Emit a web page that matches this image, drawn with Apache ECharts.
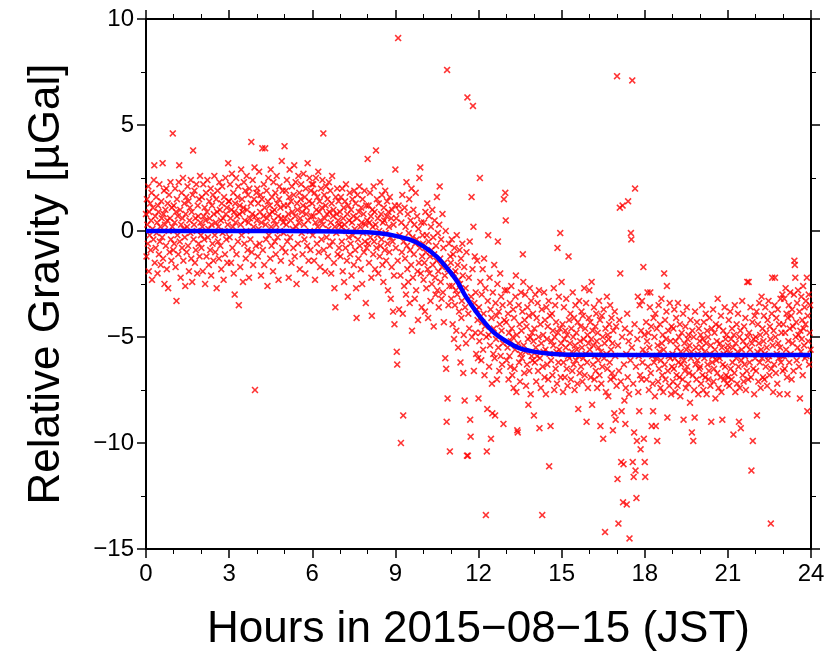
<!DOCTYPE html>
<html>
<head>
<meta charset="utf-8">
<script src="https://cdn.jsdelivr.net/npm/echarts@6/dist/echarts.min.js"></script>
<style>
  html, body { margin: 0; padding: 0; background: #fff; }
  #chart { width: 839px; height: 657px; }
</style>
</head>
<body>
<div id="chart"></div>
<script>
// one reading per minute, one array per hour (values in µGal)
const h00 = [0.8,-1.2,1.5,0.3,-0.6,2.1,-1.9,0.9,-0.2,1.3,-0.9,0.5,1.8,-2.3,0.1,1.1,-0.4,2.4,3.1,-1.5,0.7,-0.8,1.6,-0.1,0.4,-2.0,1.2,0.9,-1.1,2.2,-0.5,0.2,-1.6,1.4,0.6,-0.3,3.2,-1.3,0.8,1.9,-2.5,0.3,1.0,-0.7,2.0,-1.8,0.5,1.3,-2.7,0.0,1.7,-1.0,0.6,2.3,-0.4,-1.4,1.1,0.2,4.6,-0.9];
const h01 = [1.2,-0.6,0.4,2.0,-1.7,0.9,-3.3,1.5,-0.2,0.7,-1.1,2.3,3.1,-0.5,1.0,-2.2,0.3,1.8,-0.8,0.6,2.5,-1.4,0.1,1.3,-0.3,-2.6,0.8,1.6,-1.0,0.2,2.1,-0.7,1.4,-1.9,0.5,1.1,-0.1,2.4,-1.3,0.9,-2.4,1.7,3.8,-0.4,0.3,1.9,-1.5,0.6,-0.9,2.2,0.0,-2.0,1.2,0.7,-0.6,1.5,-1.2,2.6,0.4,-0.2];
const h02 = [-0.8,1.6,0.2,-1.9,2.2,0.7,-0.4,1.1,-2.5,0.5,1.8,-1.2,0.9,2.4,-0.3,0.1,-1.6,1.4,0.6,-0.9,2.0,-2.1,0.3,1.2,-0.6,1.7,-1.4,0.8,2.6,-0.2,-1.0,0.4,1.5,-2.7,0.9,1.9,-0.5,0.2,-1.3,2.3,1.0,-0.7,0.5,-1.8,1.3,2.1,-0.1,0.6,-2.3,1.6,0.0,-1.1,2.5,0.8,-0.4,1.1,-1.5,0.3,3.2,1.4];
const h03 = [1.4,-0.3,2.2,0.6,-1.5,1.0,2.7,-0.8,0.2,1.8,-2.0,0.9,-3.0,1.3,0.4,2.5,-1.1,0.7,1.6,-0.5,2.1,-3.5,0.8,1.2,-1.7,0.3,2.9,-0.2,1.5,0.9,-2.4,1.1,2.3,-0.6,0.5,1.9,-1.3,0.0,2.6,1.0,-0.9,1.7,0.4,-2.2,2.0,0.6,-0.4,1.3,4.2,-1.0,0.8,2.4,-1.6,0.2,1.5,3.0,-7.5,0.7,-0.7,1.8];
const h04 = [0.5,2.0,-1.2,1.3,0.1,2.8,-0.6,0.9,1.7,-2.1,0.4,1.5,3.9,-0.9,0.7,2.2,-1.6,1.1,3.9,0.3,-0.4,1.9,0.6,-2.6,1.4,2.5,-0.2,0.8,1.2,-1.3,2.9,0.2,-0.7,1.6,0.9,-1.9,2.3,0.5,1.0,-0.5,1.8,-1.1,0.3,2.6,1.3,-0.3,0.7,-2.3,1.5,2.1,0.0,1.1,-1.4,0.6,3.3,-0.8,1.9,0.4,-0.1,1.2];
const h05 = [4.0,0.6,-1.0,1.9,0.3,2.4,-0.5,1.2,0.8,-2.2,1.6,2.9,-0.3,0.5,1.4,-1.5,2.1,0.9,0.1,-0.8,1.7,3.1,-1.2,0.7,2.3,0.2,-2.5,1.3,1.0,-0.6,2.6,0.4,1.8,-1.8,0.6,1.5,2.2,-0.1,0.9,-1.1,1.2,2.7,0.3,-0.4,1.6,-2.0,2.0,0.8,1.1,-0.7,3.2,0.5,-1.4,1.4,2.5,0.0,-0.9,1.9,0.7,2.2];
const h06 = [1.3,-0.2,2.2,0.7,-1.4,1.8,-2.3,0.4,2.5,1.0,-0.6,1.6,0.2,2.8,-1.0,0.9,1.4,-1.7,0.5,2.0,-0.4,1.1,2.4,0.3,4.6,-0.9,1.7,0.6,-1.9,1.2,2.1,-0.3,0.8,1.5,-1.2,0.1,2.3,0.9,-0.7,1.9,0.4,-2.0,1.3,2.6,-0.5,0.7,1.0,-1.5,-2.7,0.2,-3.6,1.6,-0.1,0.8,2.0,-1.1,0.5,1.4,-0.8,0.3];
const h07 = [0.9,-1.2,1.6,0.2,-0.5,2.0,-1.9,0.6,1.1,-2.4,0.3,1.4,-0.8,2.2,0.0,-1.4,0.8,-3.1,1.2,-0.3,0.5,1.8,-1.1,-0.6,1.0,-2.1,0.4,1.5,-0.2,0.7,-1.6,1.9,0.1,-0.9,1.3,-2.7,-4.1,0.6,1.7,-0.4,-1.3,0.9,2.1,-0.7,0.2,-1.8,1.1,0.4,-2.5,1.5,-0.1,0.8,-1.0,1.9,-0.5,0.3,-3.4,1.2,-0.8,0.5];
const h08 = [3.4,-0.6,1.2,-1.5,0.4,1.8,-0.3,0.7,-2.2,-4.0,1.0,0.2,-1.1,2.1,-0.5,0.9,-1.8,0.3,3.8,-0.8,1.5,-0.2,0.6,-2.0,1.3,0.0,-1.2,2.3,-0.7,0.8,-0.4,1.7,-1.6,0.4,-2.4,1.1,0.5,-0.9,1.9,-0.1,-1.4,0.7,1.4,-0.6,-2.8,0.9,0.2,-1.0,1.6,-0.3,-3.2,0.6,-1.7,1.0,-0.5,-3.8,0.3,-2.1,-4.4,1.2];
const h09 = [2.9,-0.8,0.6,-5.7,-6.3,-1.4,9.1,1.2,-3.7,-0.2,0.9,-2.1,-10.0,0.4,-1.0,1.7,-3.9,-8.7,-0.5,-2.6,1.1,-1.3,0.2,-3.0,2.3,-0.7,-1.8,0.8,-2.4,-0.1,1.5,-3.4,-0.9,0.5,-1.6,2.0,-4.7,-0.3,-2.2,1.0,-1.1,0.3,-3.2,-0.6,1.8,-2.8,-0.4,0.7,-1.9,-4.2,0.1,-1.5,2.5,-0.8,3.0,-2.0,0.4,-3.6,-1.2,-0.2];
const h10 = [-0.6,-2.3,0.4,-1.5,-3.8,0.9,-1.0,-2.7,-0.2,1.3,-1.8,-4.1,-0.5,0.7,-2.0,-1.2,-3.3,0.2,-0.9,-2.5,1.0,-1.6,-0.3,-4.5,-1.1,0.5,-2.2,-3.0,-0.7,-1.4,1.6,-2.8,-0.1,-1.9,-3.6,0.3,2.1,-1.3,-2.4,-0.4,-3.2,-1.7,0.8,-2.9,-0.8,-4.3,-1.5,-2.1,-6.0,0.0,-6.5,-9.0,7.6,-7.9,-1.8,-3.5,-0.6,-2.6,-10.4,-1.2];
const h11 = [-1.5,-3.2,-0.4,-2.6,-4.4,-1.1,-2.0,-5.1,-0.8,-3.5,-1.9,-2.8,-4.7,-0.2,-3.0,-1.6,-5.5,-2.3,-3.8,-0.9,-2.5,-6.2,-1.3,-4.1,-3.3,-0.6,-2.1,-6.7,-4.9,-1.7,-8.0,-3.6,-2.7,-5.3,-1.0,-10.6,6.3,-10.6,-3.9,-2.2,-4.6,-0.5,-8.9,-9.7,-3.1,1.6,-5.0,-1.8,5.9,0.2,-6.6,-3.4,-1.2,-4.8,-2.9,-5.8,-3.7,-1.4,-4.2,-6.0];
const h12 = [-7.9,-3.6,-5.2,2.5,-2.4,-4.8,-6.1,-3.0,-4.3,-1.8,-5.6,-3.9,-1.3,-6.8,-4.5,-2.7,-13.4,-5.0,-10.4,-8.4,-3.3,-0.2,-4.9,-6.4,-2.2,-5.4,-3.7,-9.8,-4.1,-7.2,-8.6,-2.9,-5.8,-4.6,-1.6,-6.0,-8.7,-3.4,-5.1,-4.0,-7.0,-2.5,-0.5,-5.5,-3.8,-6.6,-4.4,-2.0,-5.9,-3.1,-4.7,-6.3,-3.5,-5.3,-9.1,1.5,-4.2,-2.8,1.8,0.5];
const h13 = [-4.3,-6.1,-2.8,-5.5,-3.9,-7.0,-4.8,-5.9,-3.4,-6.4,-5.2,-2.6,-4.6,-6.8,-5.0,-3.7,-7.4,-4.1,-6.5,-5.6,-3.1,-2.1,-7.6,-4.9,-9.4,-9.5,-5.3,-3.5,-6.2,-4.4,-7.1,-5.8,-2.9,-4.7,-6.0,-3.8,-1.1,-2.4,-5.4,-6.7,-4.2,-3.0,-5.7,-7.3,-4.5,-6.3,-3.6,-5.1,-8.2,-4.0,-6.6,-2.7,-5.0,-7.7,-3.3,-5.9,-4.8,-6.1,-3.9,-5.2];
const h14 = [-8.7,-4.6,-6.2,-3.0,-5.5,-7.1,-4.1,-5.9,-3.4,-6.6,-5.0,-2.8,-9.3,-6.0,-4.4,-7.4,-5.3,-3.7,-13.4,-6.4,-4.9,-5.7,-2.9,-6.9,-4.2,-5.6,-7.7,-3.6,-5.1,-6.3,-4.5,-7.0,-3.3,-11.1,-5.8,-4.0,-9.2,-6.1,-5.2,-3.9,-6.8,-4.7,-5.4,-2.7,-7.5,-5.0,-3.5,-6.5,-4.3,-5.7,-7.2,-0.8,-4.8,-6.2,-3.1,-5.6,-4.6,-0.1,-6.9,-5.3];
const h15 = [-2.4,-5.8,-4.4,-7.6,-6.2,-3.6,-5.1,-6.9,-4.7,-5.5,-3.2,-6.5,-4.9,-7.3,-5.9,-1.2,-4.2,-6.0,-5.3,-3.9,-7.0,-4.6,-5.7,-6.6,-2.9,-5.0,-6.3,-4.1,-7.5,-5.4,-3.5,-6.1,-4.8,-5.6,-7.2,-4.3,-8.4,-5.9,-3.3,-6.7,-5.2,-4.5,-6.4,-3.8,-5.5,-7.1,-4.0,-6.0,-5.1,-2.7,-6.8,-4.6,-5.8,-3.4,-9.0,-6.2,-4.9,-7.4,-5.3,-4.1];
const h16 = [-2.8,-5.6,-4.3,-6.9,-5.1,-2.4,-8.2,-4.7,-6.3,-5.4,-3.6,-7.0,-5.9,-4.5,-6.6,-3.9,-5.2,-7.4,-4.8,-6.1,-5.5,-3.3,-6.8,-4.2,-9.2,-5.7,-7.2,-4.0,-6.4,-5.0,-9.8,-3.7,-6.0,-5.3,-14.2,-4.6,-7.6,-5.8,-3.1,-6.5,-4.9,-7.8,-5.1,-4.4,-6.2,-3.5,-7.0,-5.6,-4.1,-6.7,-5.3,-9.4,-4.7,-6.9,-8.6,-3.8,-5.9,-8.9,-4.5,-7.3];
const h17 = [7.3,-11.7,-5.4,-13.8,-6.6,-4.2,1.1,-2.0,-7.1,-10.9,-8.5,-5.0,1.2,-12.8,-11.0,-6.3,-8.0,-4.6,-9.1,-7.4,-5.8,-12.9,-3.9,-6.9,1.4,-5.2,-7.7,-14.5,-4.8,-6.1,-0.1,-0.4,-5.5,7.1,-10.9,-7.2,-11.6,-9.5,-4.4,2.0,-11.3,-6.4,-12.6,-9.9,-5.1,-3.1,-7.6,-5.9,-8.5,-3.5,-6.8,-10.3,-4.7,-7.0,-3.3,-6.2,-5.6,-1.7,-9.8,-4.9];
const h18 = [-10.9,-11.6,-5.8,-4.3,-7.0,-5.2,-2.9,-6.4,-4.8,-7.5,-5.5,-3.6,-2.9,-6.7,-4.5,-9.2,-5.9,-7.2,-8.5,-4.1,-6.2,-5.0,-7.8,-3.9,-9.2,-6.0,-4.6,-9.9,-5.4,-7.1,-3.5,-6.5,-5.7,-4.4,-7.4,-6.1,-3.2,-5.3,-6.8,-4.9,-7.6,-5.6,-2.0,-6.3,-4.2,-7.0,-5.1,-3.8,-2.6,-8.8,-6.6,-4.7,-5.9,-7.3,-3.4,-6.0,-5.2,-7.7,-4.5,-6.4];
const h19 = [-5.8,-7.1,-4.6,-6.5,-3.7,-6.0,-7.6,-5.2,-4.1,-6.8,-5.5,-7.3,-3.4,-6.2,-5.0,-6.9,-4.4,-7.8,-5.7,-6.3,-4.8,-5.9,-7.0,-3.9,-8.9,-6.1,-5.3,-6.6,-4.5,-7.4,-5.6,-3.6,-6.4,-5.1,-7.2,-4.9,-6.7,-5.4,-8.1,-4.2,-6.0,-5.7,-9.5,-4.7,-6.8,-9.9,-5.0,-7.5,-8.8,-3.8,-6.3,-5.5,-7.0,-4.3,-6.1,-5.8,-7.7,-4.6,-6.5,-5.2];
const h20 = [-6.4,-4.9,-7.2,-5.5,-3.5,-6.8,-5.1,-7.5,-4.3,-6.0,-5.7,-6.9,-3.9,-5.3,-7.7,-4.7,-6.3,-5.0,-7.0,-6.6,-4.1,-5.8,-7.3,-5.4,-9.0,-4.6,-6.2,-5.9,-3.7,-7.1,-6.5,-4.8,-5.6,-7.9,-4.4,-6.1,-5.2,-6.7,-3.2,-5.9,-7.4,-4.5,-6.0,-5.3,-6.9,-4.0,-7.6,-5.5,-8.9,-6.3,-4.7,-5.8,-7.0,-3.6,-6.4,-5.1,-6.8,-4.9,-7.2,-5.6];
const h21 = [-5.4,-6.9,-4.2,-7.3,-5.8,-3.8,-6.5,-5.1,-7.0,-4.6,-6.2,-5.5,-9.6,-4.9,-6.7,-3.5,-7.6,-5.3,-6.0,-4.4,-7.2,-5.7,-3.9,-6.4,-9.0,-5.0,-7.4,-4.7,-9.3,-6.1,-5.6,-3.3,-6.8,-5.2,-7.1,-4.5,-6.3,-5.9,-4.1,-7.5,-5.4,-6.6,-2.4,-5.0,-7.0,-2.4,-4.8,-6.2,-5.6,-3.6,-6.9,-11.3,-5.3,-4.3,-9.9,-6.5,-5.1,-7.7,-4.0,-6.0];
const h22 = [-5.0,-6.6,-3.8,-8.7,-5.7,-4.4,-7.1,-5.3,-3.4,-6.2,-4.9,-7.4,-5.6,-3.1,-6.0,-4.6,-6.9,-5.2,-4.0,-7.0,-5.8,-3.6,-6.4,-4.8,-5.5,-7.3,-4.2,-6.1,-3.3,-5.9,-6.8,-4.5,-5.1,-13.8,-6.5,-3.9,-2.2,-5.4,-7.6,-4.7,-6.3,-3.5,-2.2,-5.0,-6.7,-4.1,-5.8,-7.2,-3.7,-5.3,-6.0,-4.4,-7.7,-5.5,-3.2,-6.2,-4.8,-5.9,-3.0,-6.6];
const h23 = [-4.4,-5.9,-3.2,-6.5,-4.8,-2.7,-5.6,-3.9,-6.9,-7.7,-4.1,-5.2,-3.5,-6.2,-4.6,-2.9,-5.8,-4.0,-7.0,-3.7,-5.3,-4.5,-6.6,-3.0,-1.4,-1.6,-2.2,-5.0,-4.3,-6.1,-3.4,-5.5,-2.8,-4.9,-6.4,-3.8,-7.9,-4.7,-5.7,-3.1,-5.1,-4.2,-6.8,-2.6,-4.6,-5.4,-3.6,-6.0,-4.4,-3.3,-5.9,-2.2,-8.5,-4.0,-5.2,-3.0,-6.3,-4.8,-3.5,-5.6];

const hourly = [h00, h01, h02, h03, h04, h05, h06, h07, h08, h09, h10, h11,
  h12, h13, h14, h15, h16, h17, h18, h19, h20, h21, h22, h23];

// fitted step curve
const fitHours = [0, 4, 6, 7, 8, 8.5, 9, 9.5, 10, 10.5, 11, 11.25, 11.5, 11.75, 12, 12.5, 13, 13.5, 14, 14.5, 15, 16, 17, 24];
const fitValues = [0, 0, -0.01, -0.02, -0.06, -0.12, -0.23, -0.4, -0.71, -1.22, -1.97, -2.42, -3.0, -3.5, -3.96, -4.72, -5.2, -5.54, -5.69, -5.78, -5.82, -5.84, -5.85, -5.85];

const xTicks = [0, 3, 6, 9, 12, 15, 18, 21, 24];
const yTicks = [-15, -10, -5, 0, 5, 10];

const points = [];
hourly.forEach((values, hour) => {
  values.forEach((value, minute) => {
    points.push([hour + minute / 60, value]);
  });
});

const fitLine = fitHours.map((hour, i) => [hour, fitValues[i]]);

const FONT = "'Liberation Sans', Helvetica, Arial, sans-serif";
const CROSS = "path://M0,1.6L1.6,0L5,3.4L8.4,0L10,1.6L6.6,5L10,8.4L8.4,10L5,6.6L1.6,10L0,8.4L3.4,5Z";

function minusSign(value) {
  return String(value).replace("-", "\u2212");
}

function makeXAxis(position, showLabels) {
  return {
    type: "value",
    position,
    min: xTicks[0],
    max: xTicks[xTicks.length - 1],
    interval: 3,
    axisLine: { show: true, onZero: false, lineStyle: { color: "#000", width: 2 } },
    axisTick: { show: true, inside: false, length: 9, lineStyle: { color: "#000", width: 1.5 } },
    minorTick: { show: true, splitNumber: 3, length: 5, lineStyle: { color: "#000", width: 1 } },
    splitLine: { show: false },
    axisLabel: {
      show: showLabels,
      fontFamily: FONT,
      fontSize: 24,
      color: "#000",
      margin: 13,
      formatter: minusSign,
    },
  };
}

function makeYAxis(position, showLabels) {
  return {
    type: "value",
    position,
    min: yTicks[0],
    max: yTicks[yTicks.length - 1],
    interval: 5,
    axisLine: { show: true, onZero: false, lineStyle: { color: "#000", width: 2 } },
    axisTick: { show: true, inside: false, length: 9, lineStyle: { color: "#000", width: 1.5 } },
    minorTick: { show: true, splitNumber: 2, length: 5, lineStyle: { color: "#000", width: 1 } },
    splitLine: { show: false },
    axisLabel: {
      show: showLabels,
      fontFamily: FONT,
      fontSize: 24,
      color: "#000",
      margin: 12,
      formatter: minusSign,
    },
  };
}

const chart = echarts.init(document.getElementById("chart"), null, { renderer: "canvas" });

const xBottom = makeXAxis("bottom", true);
xBottom.name = "Hours in 2015\u221208\u221215 (JST)";
xBottom.nameLocation = "middle";
xBottom.nameGap = 59;
xBottom.nameTextStyle = { fontFamily: FONT, fontSize: 44, color: "#000" };

const yLeft = makeYAxis("left", true);
yLeft.name = "Relative Gravity [µGal]";
yLeft.nameLocation = "middle";
yLeft.nameGap = 77;
yLeft.nameTextStyle = { fontFamily: FONT, fontSize: 44, color: "#000" };

chart.setOption({
  animation: false,
  backgroundColor: "#fff",
  grid: { left: 146, top: 19, right: 28, bottom: 106, containLabel: false },
  xAxis: [xBottom, makeXAxis("top", false)],
  yAxis: [yLeft, makeYAxis("right", false)],
  series: [
    {
      name: "observed",
      type: "scatter",
      xAxisIndex: 0,
      yAxisIndex: 0,
      data: points,
      symbol: CROSS,
      symbolSize: 7,
      itemStyle: { color: "#ff0000", opacity: 0.8 },
      large: false,
    },
    {
      name: "fit",
      type: "line",
      xAxisIndex: 0,
      yAxisIndex: 0,
      data: fitLine,
      smooth: 0.3,
      showSymbol: false,
      lineStyle: { color: "#0000ff", width: 4.5 },
      z: 3,
    },
  ],
});
</script>
</body>
</html>
